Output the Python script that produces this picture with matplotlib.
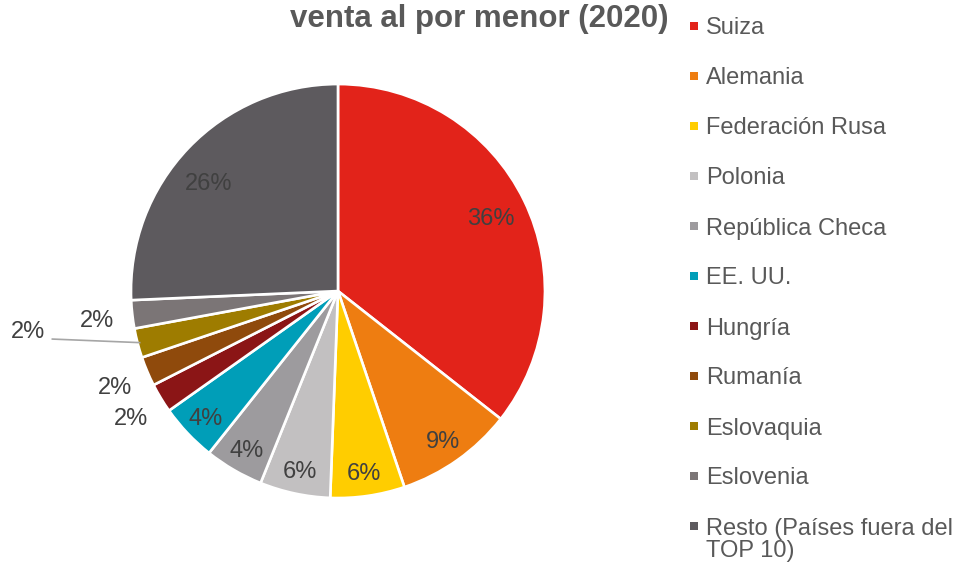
import numpy as np
import matplotlib.pyplot as plt
from matplotlib.patches import Rectangle

plt.rcParams['font.family'] = ['Liberation Sans', 'DejaVu Sans']

paises = ["Suiza", "Alemania", "Federación Rusa", "Polonia", "República Checa",
          "EE. UU.", "Hungría", "Rumanía", "Eslovaquia", "Eslovenia",
          "Resto (Países fuera del\nTOP 10)"]
cuotas = [35.6, 9.2, 5.8, 5.5, 4.6, 4.5, 2.3, 2.3, 2.3, 2.2, 25.7]
etiquetas = ["36%", "9%", "6%", "6%", "4%", "4%", "2%", "2%", "2%", "2%", "26%"]
colores = ["#E2231A", "#EE7D11", "#FFCD00", "#C2C0C1", "#9D9B9E", "#009EB8",
           "#8B1516", "#8F4A0C", "#9E7C00", "#7B7576", "#5D5A5E"]
fuera = [False, False, False, False, False, False, True, True, True, True, False]

W, H = 958, 563
fig = plt.figure(figsize=(W / 100, H / 100), dpi=100)
ax = fig.add_axes([0.1367, 0.1154, 0.4322, 0.7353])

wedges, _ = ax.pie(cuotas, colors=colores, startangle=90, counterclock=False,
                   wedgeprops=dict(edgecolor='white', linewidth=1.9))
ax.set_xlim(-1, 1)
ax.set_ylim(-1, 1)
ax.set_aspect('equal')

for w, lab, out, name, v in zip(wedges, etiquetas, fuera, paises, cuotas):
    ang = np.deg2rad((w.theta1 + w.theta2) / 2)
    if name == "Eslovaquia":
        ex, ey = np.cos(ang), np.sin(ang)
        ax.plot([-1.38, ex * 0.99], [-0.232, ey * 0.99], color='#A6A6A6', lw=1.2,
                clip_on=False)
        ax.text(-1.498, -0.198, lab, ha='center', va='center', fontsize=17,
                color='#404040')
        continue
    if out:
        r = 1.17
    elif v > 20:
        r = 0.82
    else:
        r = 0.88
    if name.startswith("Resto"):
        ang += np.deg2rad(3.5)
    ax.text(r * np.cos(ang), r * np.sin(ang), lab, ha='center',
            va='center_baseline', fontsize=17, color='#404040')

fig.text(0.5, 1 - 27 / H, "venta al por menor (2020)", ha='center', va='baseline',
         fontsize=22.5, fontweight='bold', color='#595959')

# leyenda
for i, (name, c) in enumerate(zip(paises, colores)):
    yc = 26 + 50 * i
    fig.patches.append(Rectangle((690 / W, 1 - (yc + 4) / H), 8 / W, 8 / H,
                                 transform=fig.transFigure, facecolor=c,
                                 edgecolor='none'))
    if "\n" in name:
        fig.text(706 / W, 1 - (yc - 8) / H, name, ha='left', va='top',
                 fontsize=17, color='#595959', linespacing=0.98)
    else:
        fig.text(706 / W, 1 - yc / H, name, ha='left', va='center_baseline',
                 fontsize=17, color='#595959')

fig.savefig("out.png", dpi=100)
